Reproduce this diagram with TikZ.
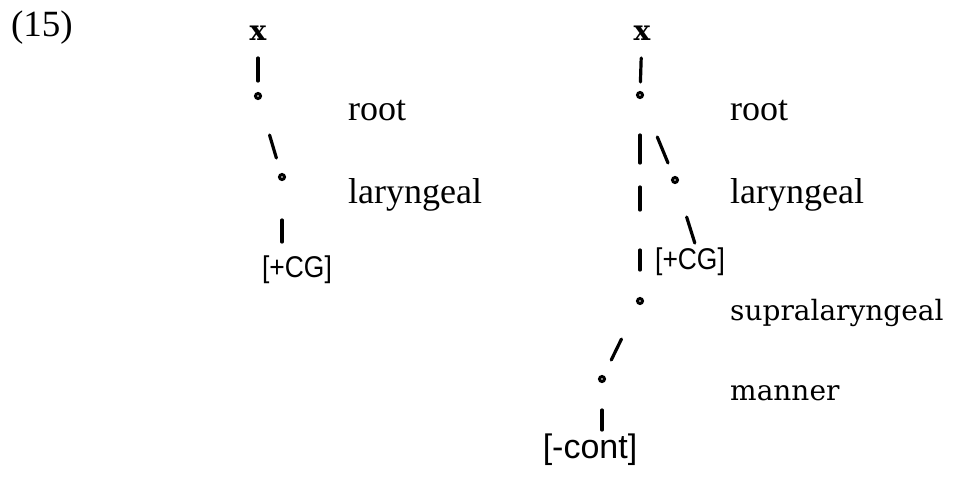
\documentclass[tikz,border=0pt]{standalone}
\usepackage{fontspec}
\setmainfont{Liberation Serif}
\newfontfamily\sansf{Liberation Sans}
\newfontfamily\slabf{DejaVu Serif}
\newcommand{\narrowtxt}[1]{\scalebox{0.88}[1]{#1}}
\begin{document}
\begin{tikzpicture}[x=1pt,y=-1pt,
  lbl/.style={anchor=base west,inner sep=0pt,font=\fontsize{36}{40}\selectfont},
  slab/.style={anchor=base west,inner sep=0pt,font=\slabf\fontsize{28}{32}\selectfont},
  feat/.style={inner sep=0pt,font=\sansf\fontsize{30}{33}\selectfont},
  xnode/.style={inner sep=0pt,font=\slabf\bfseries\fontsize{28}{30}\selectfont},
  dotn/.style={circle,draw,fill=white,inner sep=0pt,minimum size=5pt,line width=3pt},
  stroke/.style={line width=3.2pt,line cap=round}]
\useasboundingbox (0,0) rectangle (959,485);
% example number
\node[inner sep=0pt,font=\fontsize{37}{40}\selectfont] (num) at (42,27.5) {(15)};
% left tree
\node[xnode] (lx) at (258,33) {x};
\node[dotn] (lrd) at (258,96) {};
\node[dotn] (lld) at (282,177) {};
\node[feat] (lcg) at (297,270) {\narrowtxt{[+CG]}};
\node[lbl] (lroot) at (348,120) {root};
\node[lbl] (llar) at (348,203) {laryngeal};
\draw[stroke,shorten <=25pt,shorten >=15pt] (lx.center) -- (lrd.center);
\draw[stroke,shorten <=40.7pt,shorten >=19.8pt] (lrd.center) -- (lld.center);
\draw[stroke,shorten <=43pt,shorten >=28pt] (lld.center) -- (lld.center |- lcg.center);
% right tree
\node[xnode] (rx) at (642,33) {x};
\node[dotn] (rrd) at (640,95) {};
\node[dotn] (rld) at (675,180) {};
\node[feat] (rcg) at (690,262) {\narrowtxt{[+CG]}};
\coordinate (rcgtop) at (697,250);
\node[dotn] (rsd) at (640,301) {};
\node[dotn] (rmd) at (602,379) {};
\node[feat,font=\sansf\fontsize{34}{38}\selectfont] (rcont) at (590,450) {[-cont]};
\node[lbl] (rroot) at (730,120) {root};
\node[lbl] (rlar) at (730,203) {laryngeal};
\node[slab] (rsup) at (730,320) {supralaryngeal};
\node[slab] (rman) at (730,400) {manner};
\draw[stroke,shorten <=25pt,shorten >=13pt] (rx.center) -- (rrd.center);
\draw[stroke,shorten <=40pt,shorten >=138pt] (rrd.center) -- (rsd.center);
\draw[stroke,shorten <=92pt,shorten >=91pt] (rrd.center) -- (rsd.center);
\draw[stroke,shorten <=155pt,shorten >=31pt] (rrd.center) -- (rsd.center);
\draw[stroke,shorten <=45.4pt,shorten >=18.4pt] (rrd.center) -- (rld.center);
\draw[stroke,shorten <=38.8pt,shorten >=7.3pt] (rld.center) -- (rcgtop);
\draw[stroke,shorten <=42.3pt,shorten >=21.1pt] (rsd.center) -- (rmd.center);
\draw[stroke,shorten <=31pt,shorten >=20pt] (rmd.center) -- (rmd.center |- rcont.center);
\end{tikzpicture}
\end{document}
